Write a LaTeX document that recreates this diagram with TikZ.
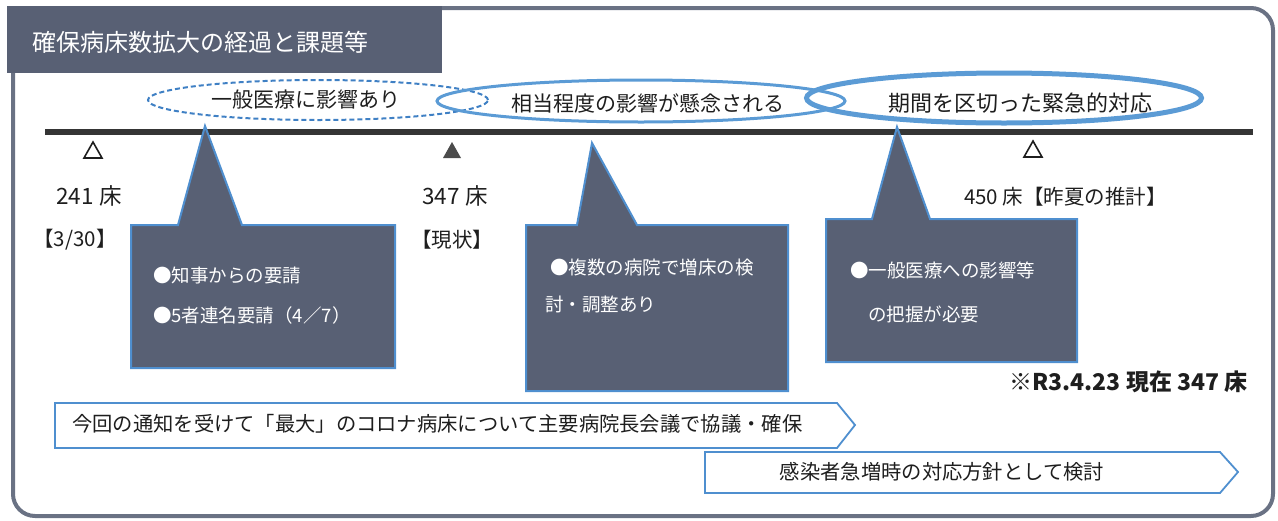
\documentclass[tikz,border=0pt]{standalone}
\usepackage{fontspec}
\setmainfont{Noto Sans CJK JP}
\usetikzlibrary{shapes.geometric}
\definecolor{slate}{HTML}{586074}
\definecolor{bdblue}{HTML}{4F8FCF}
\definecolor{elblue}{HTML}{5B9BD5}
\definecolor{dashblue}{HTML}{3F80C4}
\definecolor{framec}{HTML}{6A7284}
\definecolor{ink}{HTML}{1E1E1E}
\begin{document}
\begin{tikzpicture}[x=1pt,y=-1pt,
  frame/.style={draw=framec,line width=4pt,rounded corners=22pt},
  titlebar/.style={fill=slate,draw=none},
  timeline/.style={draw=ink!90,line width=6pt},
  evt/.style={ellipse,draw=elblue,inner sep=0pt},
  lbl/.style={text=ink,inner sep=0pt,font=\fontsize{21pt}{24pt}\selectfont},
  callout/.style={fill=slate,draw=bdblue,line width=2pt,line join=miter},
  boxtxt/.style={text=white,inner sep=0pt,anchor=west,font=\fontsize{18.5pt}{22pt}\selectfont},
  arrowbox/.style={fill=white,draw=bdblue,line width=1.8pt,line join=miter},
  arrtxt/.style={text=ink,inner sep=0pt,font=\fontsize{20.3pt}{24pt}\selectfont},
  tri/.style={draw=ink,line width=1.6pt,line join=miter}
]
\useasboundingbox (0,0) rectangle (1278,520);
% outer frame
\draw[frame] (13,8) rectangle (1273,516);
% title bar
\fill[titlebar] (7,6) rectangle (442,73);
\node[anchor=west,text=white,inner sep=0pt,font=\fontsize{24pt}{28pt}\selectfont] (title) at (32,42) {確保病床数拡大の経過と課題等};
% timeline
\coordinate (tl0) at (45,132);
\coordinate (tl1) at (1253,132);
\draw[timeline] (tl0) -- (tl1);
% ellipses
\node[evt,draw=dashblue,dash pattern=on 5pt off 3pt,line width=2pt,minimum width=340pt,minimum height=40pt] (e1) at (318,100) {};
\node[evt,line width=3pt,minimum width=408pt,minimum height=42pt] (e2) at (641,101) {};
\node[evt,line width=5pt,minimum width=395pt,minimum height=50pt] (e3) at (1004,98) {};
\node[lbl] (e1t) at (306,100) {一般医療に影響あり};
\node[lbl] (e2t) at (648,103) {相当程度の影響が懸念される};
\node[lbl,font=\fontsize{22pt}{26pt}\selectfont] (e3t) at (1020,103) {期間を区切った緊急的対応};
% triangles
\draw[tri] (84,158) -- (102,158) -- (93,142) -- cycle;
\fill[ink!80] (443,158) -- (461,158) -- (452,142) -- cycle;
\draw[tri] (1024,157) -- (1042,157) -- (1033,141) -- cycle;
% labels
\node[lbl,font=\fontsize{22.5pt}{26pt}\selectfont] (b241) at (89,196) {241 床};
\node[lbl,font=\fontsize{20.5pt}{24pt}\selectfont] (d330) at (75,240) {【3/30】};
\node[lbl,font=\fontsize{22.5pt}{26pt}\selectfont] (b347) at (455,196) {347 床};
\node[lbl,font=\fontsize{20.5pt}{24pt}\selectfont] (now) at (452,240) {【現状】};
\node[lbl,anchor=west,font=\fontsize{20.5pt}{24pt}\selectfont] (b450) at (964,197) {450 床【昨夏の推計】};
% callouts
\draw[callout] (131,225) -- (178,225) -- (205,126) -- (242,225) -- (395,225) -- (395,368) -- (131,368) -- cycle;
\draw[callout] (526,225) -- (577,225) -- (592,143) -- (637,225) -- (788,225) -- (788,391) -- (526,391) -- cycle;
\draw[callout] (826,219) -- (872,219) -- (897,127) -- (930,219) -- (1077,219) -- (1077,362) -- (826,362) -- cycle;
\node[boxtxt] (c1a) at (153,275) {●知事からの要請};
\node[boxtxt] (c1b) at (153,315) {●5者連名要請（4／7）};
\node[boxtxt] (c2a) at (550,267) {●複数の病院で増床の検};
\node[boxtxt] (c2b) at (545,305) {討・調整あり};
\node[boxtxt] (c3a) at (850,270) {●一般医療への影響等};
\node[boxtxt] (c3b) at (868,314) {の把握が必要};
% note
\node[lbl,anchor=east,font=\fontsize{23pt}{26pt}\selectfont\bfseries] (note) at (1248,382) {※R3.4.23 現在 347 床};
% arrow boxes
\draw[arrowbox] (55,403) -- (837,403) -- (855,425) -- (837,448) -- (55,448) -- cycle;
\node[arrtxt,anchor=west] (a1t) at (72,424) {今回の通知を受けて「最大」のコロナ病床について主要病院長会議で協議・確保};
\draw[arrowbox] (705,452) -- (1220,452) -- (1238,472) -- (1220,493) -- (705,493) -- cycle;
\node[arrtxt] (a2t) at (942,472) {感染者急増時の対応方針として検討};
\end{tikzpicture}
\end{document}
